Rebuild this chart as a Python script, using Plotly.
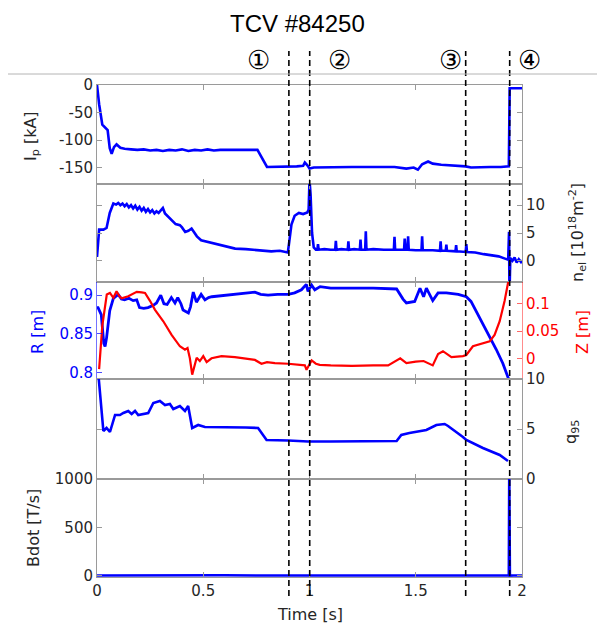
import plotly.graph_objects as go

# ---------------- data ----------------
t_ip = [0.000, 0.010, 0.025, 0.040, 0.050, 0.060, 0.069, 0.080, 0.092, 0.110, 0.130, 0.160, 0.190, 0.220,
        0.250, 0.280, 0.310, 0.340, 0.370, 0.400, 0.430, 0.460, 0.490, 0.520, 0.550, 0.580, 0.610, 0.640,
        0.670, 0.700, 0.730, 0.755, 0.800, 0.850, 0.900, 0.940, 0.970, 0.978, 0.990, 1.000, 1.020, 1.100,
        1.200, 1.300, 1.400, 1.456, 1.490, 1.510, 1.530, 1.558, 1.580, 1.620, 1.660, 1.700, 1.735, 1.760,
        1.800, 1.850, 1.900, 1.938, 1.942, 1.960, 2.000]
ip_kA = [0, -35, -72, -77, -82, -115, -125, -113, -108, -114, -116, -117, -118, -117,
         -119, -118, -120, -118, -119, -117, -120, -118, -119, -117, -119, -118, -118, -119,
         -118, -118, -118, -118, -149, -149, -149, -148, -147, -141, -146, -152, -150, -149,
         -149, -149, -149, -152, -150, -154, -144, -139, -143, -145, -146, -147, -148, -150,
         -149, -149, -149, -148, -6, -6, -6]

t_ne = [0.000, 0.005, 0.010, 0.030, 0.045, 0.060, 0.077, 0.090, 0.100, 0.110, 0.120, 0.130, 0.140, 0.150,
        0.160, 0.170, 0.180, 0.190, 0.200, 0.210, 0.220, 0.230, 0.240, 0.250, 0.260, 0.270, 0.280, 0.290,
        0.300, 0.310, 0.320, 0.340, 0.360, 0.370, 0.390, 0.400, 0.415, 0.430, 0.445, 0.455, 0.470, 0.490,
        0.520, 0.555, 0.600, 0.650, 0.700, 0.774, 0.820, 0.860, 0.898, 0.905, 0.915, 0.930, 0.950, 0.970,
        0.990, 0.996, 1.000, 1.005, 1.012, 1.020, 1.030, 1.037, 1.040, 1.043, 1.070, 1.100, 1.121, 1.124,
        1.127, 1.150, 1.180, 1.183, 1.186, 1.210, 1.237, 1.240, 1.243, 1.262, 1.265, 1.268, 1.300, 1.350,
        1.397, 1.400, 1.403, 1.445, 1.448, 1.452, 1.461, 1.464, 1.467, 1.500, 1.527, 1.530, 1.533, 1.580,
        1.614, 1.617, 1.620, 1.641, 1.644, 1.647, 1.687, 1.690, 1.693, 1.735, 1.738, 1.741, 1.780, 1.820,
        1.860, 1.890, 1.920, 1.935, 1.939, 1.941, 1.945, 1.955, 1.965, 1.975, 1.985, 1.995, 2.000]
ne_el = [0.7, 3.0, 5.6, 5.6, 5.9, 8.6, 10.3, 10.1, 10.4, 10.0, 10.3, 9.8, 10.2, 9.6,
         10.0, 9.4, 9.9, 9.2, 9.7, 9.0, 9.5, 8.8, 9.3, 8.7, 9.1, 8.5, 8.9, 8.6,
         9.1, 9.5, 8.5, 7.8, 7.1, 6.6, 6.4, 6.0, 5.2, 5.4, 5.8, 5.3, 4.4, 3.7,
         3.4, 3.1, 2.7, 2.2, 2.1, 1.9, 1.7, 1.8, 1.5, 3.5, 6.5, 8.1, 8.6, 8.4,
         8.7, 9.2, 14.5, 12.0, 5.0, 2.4, 2.0, 2.0, 3.0, 2.0, 2.1, 2.0, 2.0, 3.6,
         2.0, 2.1, 2.0, 3.5, 2.0, 2.1, 2.0, 3.8, 2.0, 2.0, 5.3, 2.0, 2.1, 2.0,
         2.0, 4.3, 2.0, 2.0, 4.0, 2.0, 2.0, 4.4, 2.0, 1.9, 1.9, 4.4, 1.9, 1.9,
         1.8, 3.5, 1.8, 1.8, 2.9, 1.8, 1.7, 2.8, 1.7, 1.6, 3.0, 1.6, 1.5, 1.2,
         1.0, 0.8, 0.4, 0.2, 5.2, -6.0, 0.5, 0.0, 0.6, -0.3, 0.3, -0.2, 0.1]

t_R = [0.000, 0.005, 0.020, 0.032, 0.038, 0.045, 0.060, 0.077, 0.100, 0.115, 0.130, 0.150, 0.170, 0.187,
       0.200, 0.220, 0.240, 0.265, 0.280, 0.300, 0.315, 0.330, 0.350, 0.367, 0.380, 0.395, 0.405, 0.430,
       0.440, 0.453, 0.468, 0.490, 0.508, 0.525, 0.540, 0.580, 0.617, 0.680, 0.743, 0.770, 0.805, 0.850,
       0.900, 0.930, 0.962, 0.985, 0.993, 1.010, 1.025, 1.050, 1.100, 1.200, 1.300, 1.410, 1.440, 1.456,
       1.495, 1.520, 1.537, 1.550, 1.580, 1.605, 1.644, 1.700, 1.738, 1.760, 1.785, 1.832, 1.879, 1.910,
       1.937]
R_m = [0.884, 0.884, 0.875, 0.838, 0.834, 0.845, 0.880, 0.896, 0.901, 0.895, 0.894, 0.896, 0.893, 0.894,
       0.884, 0.883, 0.884, 0.887, 0.890, 0.900, 0.889, 0.888, 0.897, 0.890, 0.897, 0.889, 0.881, 0.877,
       0.885, 0.904, 0.891, 0.901, 0.894, 0.897, 0.898, 0.899, 0.900, 0.902, 0.904, 0.901, 0.900, 0.901,
       0.901, 0.903, 0.907, 0.914, 0.905, 0.913, 0.907, 0.911, 0.909, 0.909, 0.909, 0.908, 0.895, 0.890,
       0.892, 0.909, 0.898, 0.909, 0.893, 0.903, 0.903, 0.901, 0.898, 0.892, 0.879, 0.855, 0.830, 0.812,
       0.792]

t_Z = [0.010, 0.025, 0.046, 0.061, 0.077, 0.092, 0.105, 0.116, 0.147, 0.187, 0.210, 0.226, 0.250, 0.273,
       0.312, 0.351, 0.390, 0.414, 0.426, 0.437, 0.448, 0.469, 0.484, 0.500, 0.516, 0.539, 0.586, 0.649,
       0.743, 0.774, 0.800, 0.837, 0.900, 0.962, 0.978, 0.986, 1.010, 1.030, 1.048, 1.100, 1.200, 1.300,
       1.370, 1.427, 1.456, 1.500, 1.537, 1.580, 1.605, 1.628, 1.668, 1.722, 1.738, 1.769, 1.810, 1.848,
       1.871, 1.895, 1.918, 1.934, 1.940]
Z_m = [-0.020, 0.060, 0.117, 0.120, 0.111, 0.123, 0.114, 0.110, 0.114, 0.122, 0.121, 0.120, 0.105, 0.089,
       0.068, 0.043, 0.022, 0.016, 0.019, 0.000, -0.030, 0.001, -0.005, 0.004, -0.007, 0.000, 0.004, 0.002,
       -0.003, -0.010, -0.007, -0.009, -0.010, -0.012, -0.013, -0.021, -0.004, -0.010, -0.012, -0.013, -0.014, -0.013,
       -0.013, 0.000, -0.009, -0.006, -0.005, -0.013, 0.008, 0.013, 0.002, 0.004, 0.006, 0.022, 0.026, 0.031,
       0.043, 0.068, 0.105, 0.138, 0.150]

t_q = [0.000, 0.012, 0.030, 0.045, 0.061, 0.085, 0.108, 0.124, 0.147, 0.163, 0.179, 0.194, 0.241, 0.265,
       0.296, 0.320, 0.343, 0.359, 0.390, 0.414, 0.429, 0.448, 0.476, 0.508, 0.600, 0.700, 0.758, 0.798,
       0.900, 0.993, 1.100, 1.200, 1.300, 1.410, 1.432, 1.470, 1.550, 1.597, 1.636, 1.652, 1.722, 1.738,
       1.816, 1.895, 1.934]
q95 = [12.0, 9.0, 4.8, 5.1, 4.7, 6.4, 6.4, 6.6, 6.8, 6.5, 6.8, 6.4, 6.6, 7.6,
       7.8, 7.4, 7.5, 7.0, 7.3, 6.8, 7.3, 5.1, 5.4, 5.2, 5.2, 5.15, 5.1, 3.9,
       3.85, 3.75, 3.75, 3.75, 3.75, 3.8, 4.4, 4.6, 4.9, 5.4, 5.5, 5.3, 4.2, 3.9,
       3.1, 2.4, 1.8]

t_b = [0.000, 0.200, 0.400, 0.600, 0.800, 1.000, 1.200, 1.400, 1.600, 1.800, 1.938, 1.940, 1.943, 1.960, 2.000]
bdot = [3, 5, 2, 6, 3, 4, 2, 5, 3, 6, 3, 1100, 3, 4, 3]

events_t = [0.903, 1.001, 1.735, 1.942]
event_labels = ["①", "②", "③", "④"]
event_label_t = [0.762, 1.143, 1.664, 2.035]

assert len(t_ip) == len(ip_kA) and len(t_ne) == len(ne_el) and len(t_R) == len(R_m)
assert len(t_Z) == len(Z_m) and len(t_q) == len(q95) and len(t_b) == len(bdot)

# ---------------- figure ----------------
BLUE = "#0000ff"
RED = "#ff0000"
FRAME = "#9a9a9a"
TXT = "#262626"
FONT = "DejaVu Sans"

# the page body adds an 8 px offset; figure is sized so the plot lands at page px 97..522 x 85..577
OFF = 8
W, H = 605 - OFF, 628 - OFF

fig = go.Figure()
fig.add_trace(go.Scatter(x=t_ip, y=ip_kA, xaxis="x", yaxis="y", mode="lines", line=dict(color=BLUE, width=2.6)))
fig.add_trace(go.Scatter(x=t_ne, y=ne_el, xaxis="x2", yaxis="y2", mode="lines", line=dict(color=BLUE, width=2.6)))
fig.add_trace(go.Scatter(x=t_R, y=R_m, xaxis="x3", yaxis="y3", mode="lines", line=dict(color=BLUE, width=2.8)))
fig.add_trace(go.Scatter(x=t_Z, y=Z_m, xaxis="x3", yaxis="y6", mode="lines", line=dict(color=RED, width=2.2)))
fig.add_trace(go.Scatter(x=t_q, y=q95, xaxis="x4", yaxis="y4", mode="lines", line=dict(color=BLUE, width=2.6)))
fig.add_trace(go.Scatter(x=t_b, y=bdot, xaxis="x5", yaxis="y5", mode="lines", line=dict(color=BLUE, width=2.6)))

# page-pixel -> paper fraction helpers
H_TOP, H_BOT = 85, 577
def py(p):
    return (H_BOT - p) / (H_BOT - H_TOP)
def px(p):
    return (p - 97) / (522 - 97)

bounds = [85, 184, 282, 379, 479, 577]
domains = [[py(bounds[i + 1]), py(bounds[i])] for i in range(5)]

tickfont = dict(family=FONT, size=15, color=TXT)
xcommon = dict(range=[0, 2], domain=[0, 1], showline=True, linecolor=FRAME, linewidth=1, mirror="ticks",
               ticks="inside", ticklen=5, tickcolor=FRAME, tickvals=[0, 0.5, 1, 1.5, 2],
               showgrid=False, zeroline=False, tickfont=tickfont)
ycommon = dict(showline=True, linecolor=FRAME, linewidth=1, ticks="inside", ticklen=5, tickcolor=FRAME,
               showgrid=False, zeroline=False, tickfont=tickfont)

layout = dict(width=W, height=H, margin=dict(l=97 - OFF, r=605 - 522, t=85 - OFF, b=628 - 577),
              plot_bgcolor="white", paper_bgcolor="white", showlegend=False)
for i in range(5):
    name = "xaxis" if i == 0 else f"xaxis{i + 1}"
    layout[name] = dict(xcommon, anchor="y" if i == 0 else f"y{i + 1}", showticklabels=(i == 4),
                        **({} if i == 0 else {"matches": "x"}))

layout["yaxis"] = dict(ycommon, domain=domains[0], anchor="x", range=[-180, 0], tickvals=[-150, -100, -50, 0],
                       ticktext=["-150", "-100", "-50", "0"], mirror="ticks")
layout["yaxis2"] = dict(ycommon, domain=domains[1], anchor="x2", side="right", range=[-3.8, 13.8],
                        tickvals=[0, 5, 10], mirror="ticks")
layout["yaxis3"] = dict(ycommon, domain=domains[2], anchor="x3", range=[0.792, 0.917], tickvals=[0.8, 0.85, 0.9],
                        linecolor="rgba(0,0,255,0.55)", tickcolor="rgba(0,0,255,0.7)",
                        tickfont=dict(family=FONT, size=15, color=BLUE))
layout["yaxis6"] = dict(ycommon, domain=domains[2], anchor="x3", overlaying="y3", side="right",
                        range=[-0.038, 0.140], tickvals=[0, 0.05, 0.1],
                        linecolor="rgba(255,0,0,0.45)", tickcolor="rgba(255,0,0,0.6)",
                        tickfont=dict(family=FONT, size=15, color=RED))
layout["yaxis4"] = dict(ycommon, domain=domains[3], anchor="x4", side="right", range=[0, 10],
                        tickvals=[0, 5, 10], mirror="ticks")
layout["yaxis5"] = dict(ycommon, domain=domains[4], anchor="x5", range=[-12, 1000],
                        tickvals=[0, 500, 1000], mirror="ticks")
fig.update_layout(**layout)

# event dashed lines
for te in events_t:
    fig.add_shape(type="line", xref="x5", yref="paper", x0=te, x1=te, y0=py(596), y1=py(51),
                  line=dict(color="black", width=1.6, dash="6px,4px"), layer="above")
# separator line under the labels
fig.add_shape(type="line", xref="paper", yref="paper", x0=px(-5), x1=px(610), y0=py(74), y1=py(74),
              line=dict(color="#b4b4b4", width=1))

ann = []
for lab, tl in zip(event_labels, event_label_t):
    ann.append(dict(x=tl / 2.0, y=py(60), xref="paper", yref="paper", text=lab, showarrow=False,
                    font=dict(family="DejaVu Serif", size=26, color="black"), xanchor="center", yanchor="middle"))
ann.append(dict(x=px(297), y=py(23), xref="paper", yref="paper", text="TCV #84250", showarrow=False,
                font=dict(family="Liberation Sans", size=24, color="black"), xanchor="center", yanchor="middle"))

def ytitle(text, xpix, ypix, color=TXT):
    return dict(x=px(xpix), y=py(ypix), xref="paper", yref="paper", text=text, showarrow=False, textangle=-90,
                font=dict(family=FONT, size=16, color=color), xanchor="center", yanchor="middle")

ann.append(ytitle("I<sub>p</sub> [kA]", 31, 136))
ann.append(ytitle("n<sub>el</sub> [10<sup>18</sup>m<sup>-2</sup>]", 577, 233))
ann.append(ytitle("R [m]", 37, 332, BLUE))
ann.append(ytitle("Z [m]", 582, 332, RED))
ann.append(ytitle("q<sub>95</sub>", 571, 432))
ann.append(ytitle("Bdot [T/s]", 33, 528))
ann.append(dict(x=px(310), y=py(614), xref="paper", yref="paper", text="Time [s]", showarrow=False,
                font=dict(family=FONT, size=16, color=TXT), xanchor="center", yanchor="middle"))
fig.update_layout(annotations=ann)

fig.write_html("out.html")
